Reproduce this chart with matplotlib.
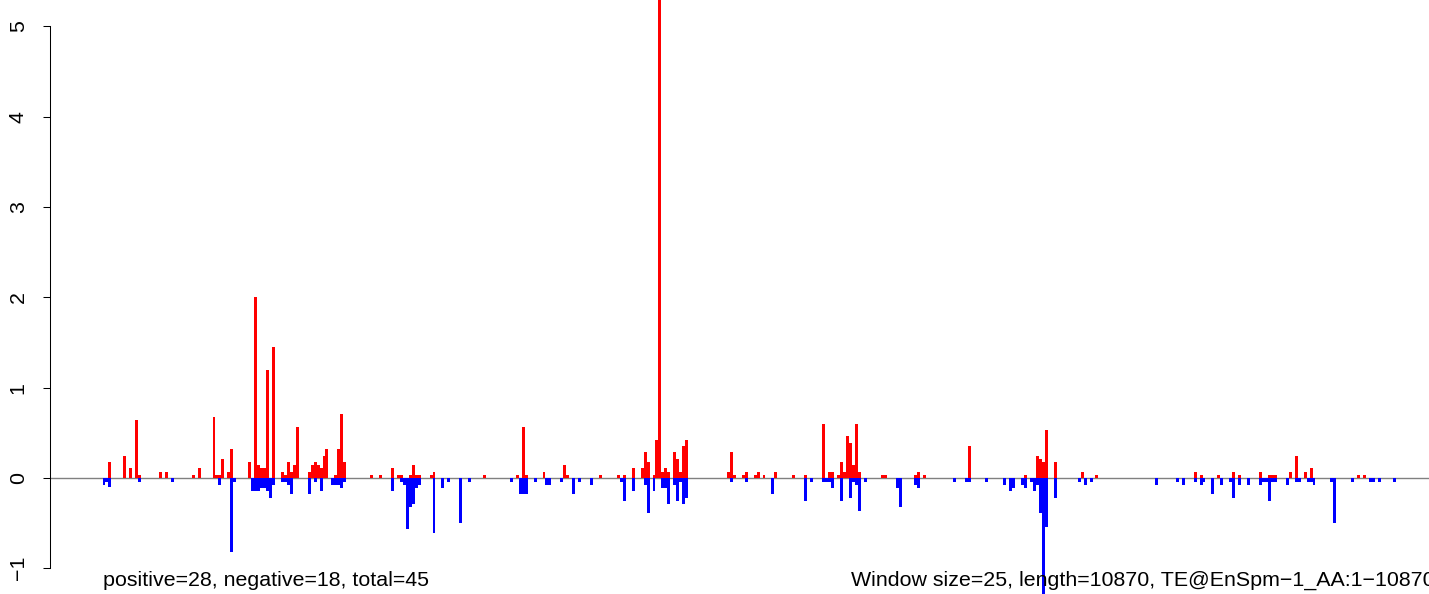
import matplotlib
matplotlib.use("Agg")
import matplotlib.pyplot as plt
import numpy as np

plt.rcParams['font.family'] = ['Liberation Sans', 'DejaVu Sans']

n_windows = 435

pos_windows = [2, 7, 9, 11, 12, 19, 21, 30, 32, 37, 38, 39, 40, 42, 43, 49, 51, 52, 53, 54, 55, 57,
               60, 61, 62, 63, 64, 65, 69, 70, 71, 72, 73, 74, 75, 78, 79, 80, 81, 90, 93, 97, 99,
               100, 103, 104, 105, 106, 110, 111, 128, 139, 141, 142, 148, 155, 156, 167, 173, 175,
               178, 181, 182, 183, 185, 186, 187, 188, 189, 190, 192, 193, 194, 195, 196, 210, 211,
               212, 215, 216, 219, 220, 222, 226, 232, 236, 242, 244, 245, 247, 248, 249, 250, 251,
               252, 253, 254, 262, 263, 273, 274, 276, 291, 310, 314, 315, 316, 317, 320, 329, 334,
               367, 369, 375, 380, 382, 389, 392, 393, 394, 399, 401, 404, 406, 422, 424]
pos_values = [0.18, 0.24, 0.11, 0.64, 0.03, 0.066, 0.066, 0.033, 0.11, 0.675, 0.03, 0.03, 0.21,
              0.066, 0.32, 0.18, 2.0, 0.14, 0.11, 0.11, 1.2, 1.45,
              0.066, 0.03, 0.18, 0.066, 0.14, 0.56, 0.066, 0.14, 0.18, 0.14, 0.11, 0.24, 0.32, 0.03,
              0.32, 0.71, 0.18, 0.03, 0.03, 0.11, 0.03,
              0.03, 0.03, 0.14, 0.03, 0.03, 0.03, 0.066, 0.03, 0.03, 0.56, 0.03, 0.066, 0.14, 0.03,
              0.03, 0.03, 0.03,
              0.11, 0.11, 0.29, 0.18, 0.03, 0.42, 6.0, 0.066, 0.11, 0.066, 0.29, 0.21, 0.066, 0.35,
              0.42, 0.066, 0.29,
              0.03, 0.03, 0.066, 0.03, 0.066, 0.03, 0.066, 0.03, 0.03, 0.6, 0.066, 0.066, 0.03, 0.18,
              0.066, 0.46, 0.39,
              0.14, 0.6, 0.066, 0.03, 0.03, 0.03, 0.066, 0.03, 0.35, 0.03, 0.24, 0.21, 0.18, 0.53,
              0.18, 0.066, 0.03,
              0.066, 0.03, 0.03, 0.066, 0.03, 0.066, 0.03, 0.03, 0.03, 0.066, 0.24, 0.066, 0.11,
              0.03, 0.03]

neg_windows = [0, 1, 2, 12, 23, 39, 43, 44, 50, 51, 52, 53, 54, 55, 56, 57, 60, 61, 62, 63, 69, 71,
               73, 77, 78, 79, 80, 81, 97, 100, 101, 102, 103, 104, 105, 106, 111, 114, 116, 120,
               123, 137, 140, 141, 142, 145, 149, 150, 154, 158, 160, 164, 174, 175, 178, 182, 183,
               185, 188, 189, 190, 192, 193, 194, 195, 196, 211, 216, 225, 236, 238, 242, 243, 244,
               245, 248, 251, 252, 253, 254, 256, 267, 268, 273, 274, 286, 290, 291, 297, 303, 305,
               306, 309, 310, 312, 313, 314, 315, 316, 317, 320, 328, 330, 332, 354, 361, 363, 367,
               369, 370, 373, 376, 379, 380, 382, 385, 389, 390, 391, 392, 393, 394, 398, 401, 402,
               405, 406, 407, 413, 414, 420, 426, 427, 429, 434]
neg_values = [-0.074, -0.04, -0.1, -0.04, -0.04, -0.074, -0.82, -0.04, -0.14, -0.14, -0.14, -0.11,
              -0.11, -0.14, -0.22, -0.074, -0.04, -0.04, -0.074, -0.18, -0.18, -0.04,
              -0.14, -0.074, -0.074, -0.074, -0.11, -0.04, -0.14, -0.04, -0.074, -0.57, -0.32, -0.29,
              -0.11, -0.074, -0.61, -0.11, -0.04, -0.5,
              -0.04, -0.04, -0.18, -0.18, -0.18, -0.04, -0.074, -0.074, -0.04, -0.18, -0.04, -0.074,
              -0.04, -0.25, -0.14, -0.074, -0.39,
              -0.14, -0.11, -0.11, -0.29, -0.074, -0.25, -0.04, -0.29, -0.22, -0.04, -0.04, -0.18,
              -0.25, -0.04, -0.04, -0.04, -0.04,
              -0.11, -0.25, -0.22, -0.04, -0.074, -0.36, -0.04, -0.11, -0.32, -0.074, -0.11, -0.04,
              -0.04, -0.04, -0.04, -0.074, -0.14,
              -0.11, -0.074, -0.11, -0.04, -0.14, -0.074, -0.39, -1.4, -0.54, -0.22, -0.04, -0.074,
              -0.04, -0.074, -0.04, -0.074, -0.04,
              -0.074, -0.04, -0.18, -0.074, -0.04, -0.22, -0.074, -0.074, -0.074, -0.04, -0.04,
              -0.25, -0.04, -0.04, -0.074, -0.04, -0.04,
              -0.04, -0.04, -0.074, -0.04, -0.5, -0.04, -0.04, -0.04, -0.04, -0.04]

y_ticks = [-1, 0, 1, 2, 3, 4, 5]
left_label = "positive=28, negative=18, total=45"
right_label = "Window size=25, length=10870, TE@EnSpm\u22121_AA:1\u221210870"

W, H = 1429, 594
fig = plt.figure(figsize=(W / 100, H / 100), dpi=100)

# pixel geometry of the reference
x_axis_px = 50
bar0_px = 102.5
bar_w_px = 2.973
zero_px = 478
unit_px = 90.3

ax = fig.add_axes([x_axis_px / W, 0, (W - x_axis_px) / W, 1])
ax.set_xlim((x_axis_px - bar0_px) / bar_w_px, (W - bar0_px) / bar_w_px)
ax.set_ylim(-(H - zero_px) / unit_px, zero_px / unit_px)

ax.axhline(0, color='#808080', lw=1.0, zorder=1)
ax.bar(pos_windows, pos_values, width=1.0, align='edge', color='#FF0000', linewidth=0, zorder=2)
ax.bar(neg_windows, neg_values, width=1.0, align='edge', color='#0000FF', linewidth=0, zorder=2)

for s in ['top', 'right', 'bottom']:
    ax.spines[s].set_visible(False)
ax.spines['left'].set_bounds(y_ticks[0], y_ticks[-1])
ax.spines['left'].set_linewidth(0.75)
ax.set_xticks([])
ax.set_yticks(y_ticks)
ax.set_yticklabels([str(t).replace('-', '\u2212') for t in y_ticks], rotation=90, va='center')
ax.tick_params(axis='y', length=5, width=0.75, pad=11, labelsize=15.4)
ax.patch.set_alpha(0)

fig.text(103 / W, (H - 580) / H, left_label, fontsize=15.4, ha='left', va='center')
fig.text(851 / W, (H - 580) / H, right_label, fontsize=15.4, ha='left', va='center')

fig.savefig('out.png', dpi=100)
